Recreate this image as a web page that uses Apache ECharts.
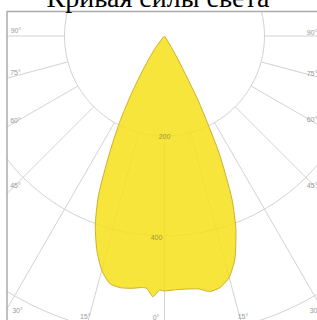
<!DOCTYPE html>
<html><head><meta charset="utf-8">
<script src="https://cdn.jsdelivr.net/npm/echarts@6/dist/echarts.min.js"></script>
<style>html,body{margin:0;padding:0;background:#fff;overflow:hidden}#c{width:317px;height:320px}</style>
</head><body><div id="c"></div>
<script>
// ---- data ----
const titleText = 'Кривая силы света';
const gammaDeg = [-90,-75,-60,-45,-42.5,-40,-37.5,-35,-32.5,-30,-27.5,-25,-22.5,-20,-17.5,-15,
  -12.5,-10,-7.5,-5,-4,-2.5,-1,0,2.5,5,7.5,10,12.5,15,17.5,20,22.5,25,27.5,30,32.5,35,37.5,40,45,60,75,90];
const intensity = [0,0,0,0,3,12,30,48,80,130,195,263,345,405,450,485,
  507,511,509,505,506,522,508,510,508,508,510,519,515,500,468,418,352,258,148,55,12,2,0,0,0,0,0,0];
const radiusTicks = [200, 400, 600];
const radiusLabelTicks = [200, 400];
const angleTicks = [-90,-75,-60,-45,-30,-15,0,15,30,45,60,75,90];

// ---- layout / style ----
const CX = 164.5, CY = 36;
const gridColor = '#d2d2d2';
const frameColor = '#ababab';
const radiusLabelOffset = {200: [0, 0], 400: [-8, 1.5]};
const angleLabelNudge = {'-90':[1,-5.5],'-75':[0.5,-3.5],'-60':[0.5,-2],'-45':[0.5,-0.5],'-30':[2.5,15.5],
  '-15':[-4,-0.5],'0':[-8.5,0.5],'15':[3.2,-0.5],'30':[1,15.5],'45':[-2,0],'60':[-2,-3],'75':[-2,-2.5],'90':[-2,-3.5]};
const labelRect = {left: 15, right: 314, bottom: 317};

const chart = echarts.init(document.getElementById('c'), null, {renderer: 'svg'});
const hiddenAxis = {axisLine:{show:false}, axisTick:{show:false}, axisLabel:{show:false}};

chart.setOption({
  animation: false,
  polar: [
    {center: [CX, CY], radius: [100, 420]},
    {center: [CX, CY], radius: 350}
  ],
  angleAxis: [
    Object.assign({polarIndex: 0, type: 'value', min: -90, max: 90, interval: 15,
      startAngle: 180, endAngle: 360, clockwise: false,
      splitLine: {show: true, lineStyle: {color: gridColor, width: 1}}}, hiddenAxis),
    Object.assign({polarIndex: 1, type: 'value', min: -180, max: 180, startAngle: 90, clockwise: false,
      splitLine: {show: false}}, hiddenAxis)
  ],
  radiusAxis: [
    Object.assign({polarIndex: 0, type: 'value', min: 0, max: 1, splitLine: {show: false}}, hiddenAxis),
    Object.assign({polarIndex: 1, type: 'value', min: 0, max: 700,
      interval: radiusTicks[1] - radiusTicks[0],
      splitLine: {show: true, lineStyle: {color: gridColor, width: 1}}}, hiddenAxis)
  ],
  series: [
    {
      type: 'line', coordinateSystem: 'polar', polarIndex: 1,
      data: gammaDeg.map((g, i) => [intensity[i], g]),
      symbol: 'none', smooth: 0.2,
      lineStyle: {color: '#cdb12a', width: 1},
      areaStyle: {color: '#f6e01a', opacity: 0.85},
      z: 3
    },
    {
      type: 'scatter', coordinateSystem: 'polar', polarIndex: 1,
      symbolSize: 0,
      data: radiusLabelTicks.map(v => ({value: [v, 0], label: {offset: radiusLabelOffset[v]}})),
      label: {show: true, position: 'inside', formatter: p => String(p.value[0]),
        color: '#857a3a', fontSize: 7, fontFamily: 'Liberation Sans'},
      silent: true, z: 4
    }
  ]
});

// angle labels placed where each ray leaves the label rectangle
const c0 = chart.convertToPixel({polarIndex: 1}, [0, 0]);
const angleLabels = angleTicks.map(g => {
  const p = chart.convertToPixel({polarIndex: 1}, [100, g]);
  const dx = (p[0] - c0[0]) / 50, dy = (p[1] - c0[1]) / 50;
  const ts = [];
  if (dx < -1e-6) ts.push((labelRect.left - c0[0]) / dx);
  if (dx > 1e-6) ts.push((labelRect.right - c0[0]) / dx);
  if (dy > 1e-6) ts.push((labelRect.bottom - c0[1]) / dy);
  const t = Math.min.apply(null, ts);
  const n = angleLabelNudge[String(g)] || [0, 0];
  return {
    type: 'text', z: 102,
    style: {text: Math.abs(g) + '°', x: c0[0] + dx * t + n[0], y: c0[1] + dy * t + n[1],
      fill: '#9a9a9a', font: '7px "Liberation Sans"',
      align: 'center', verticalAlign: 'middle', textAlign: 'center', textVerticalAlign: 'middle'}
  };
});

chart.setOption({
  graphic: {elements: [
    {type: 'rect', z: 100, shape: {x: 0, y: 0, width: 317, height: 11}, style: {fill: '#fff'}},
    {type: 'rect', z: 100, shape: {x: 0, y: 0, width: 6.5, height: 320}, style: {fill: '#fff'}},
    {type: 'line', z: 101, shape: {x1: 7, y1: 11.5, x2: 317, y2: 11.5}, style: {stroke: frameColor, lineWidth: 1.5}},
    {type: 'line', z: 101, shape: {x1: 7, y1: 11, x2: 7, y2: 320}, style: {stroke: frameColor, lineWidth: 1.5}},
    {type: 'text', z: 102, style: {text: titleText, x: 158, y: -3, fill: '#000',
      font: '28px "Liberation Serif"', align: 'center', verticalAlign: 'middle',
      textAlign: 'center', textVerticalAlign: 'middle'}}
  ].concat(angleLabels)}
});
</script>
</body></html>
